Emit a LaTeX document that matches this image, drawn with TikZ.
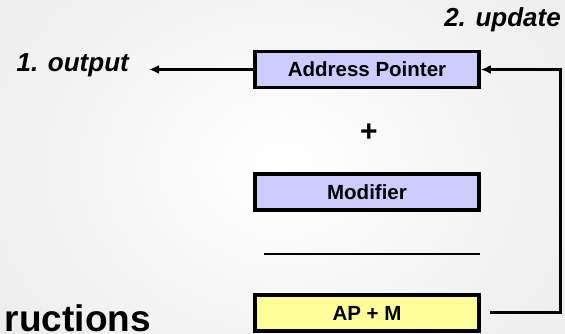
\documentclass[tikz,border=0pt]{standalone}
\usepackage{fontspec}
\setmainfont{Liberation Sans}
\usetikzlibrary{arrows.meta,calc}

\definecolor{regfill}{HTML}{CCCCFF}
\definecolor{sumfill}{HTML}{FFFF99}
\definecolor{bgedge}{HTML}{EAEAEA}

\tikzset{
  regbox/.style={draw=black, line width=3.6pt, minimum width=224pt, minimum height=36pt,
    inner sep=0pt, font=\fontsize{20.5}{22}\selectfont\bfseries},
  flow/.style={line width=3pt, -{Latex[length=10pt,width=9pt]}},
  steplabel/.style={inner sep=0pt, font=\fontsize{26}{28}\selectfont\bfseries\itshape},
}

\begin{document}
\begin{tikzpicture}[x=1pt,y=1pt]
  % canvas with a soft light sheen
  \useasboundingbox (0,0) rectangle (565,334);
  \shade[inner color=white, outer color=bgedge] (-120,-160) rectangle (685,494);

  % registers
  \node[regbox, fill=regfill] (ap)  at (367,264.5) {Address Pointer};
  \node[font=\fontsize{30}{32}\selectfont\bfseries] (plus) at (369,201) {+};
  \node[regbox, fill=regfill] (mod) at (367,142) {Modifier};
  \coordinate (ruleL) at (264,80);
  \coordinate (ruleR) at (480,80);
  \draw[line width=2.8pt] (ruleL) -- (ruleR);
  \node[regbox, fill=sumfill] (apm) at (367,21) {AP + M};

  % output of the pointer
  \coordinate (outtip) at (149,264.5);
  \draw[flow] (ap.west) -- (outtip);
  \node[steplabel, anchor=base east] (out) at (129,262) {1. output};

  % write-back of the sum
  \draw[flow] ([xshift=9pt]apm.east) -| ([xshift=80pt]ap.east) -- (ap.east);
  \node[steplabel, anchor=base east] (upd) at (561,307) {2. update};

  % heading text near the lower left corner
  \node[inner sep=0pt, anchor=base east, font=\fontsize{37}{40}\selectfont\bfseries] (head) at (151,2.5) {ructions};
\end{tikzpicture}
\end{document}
